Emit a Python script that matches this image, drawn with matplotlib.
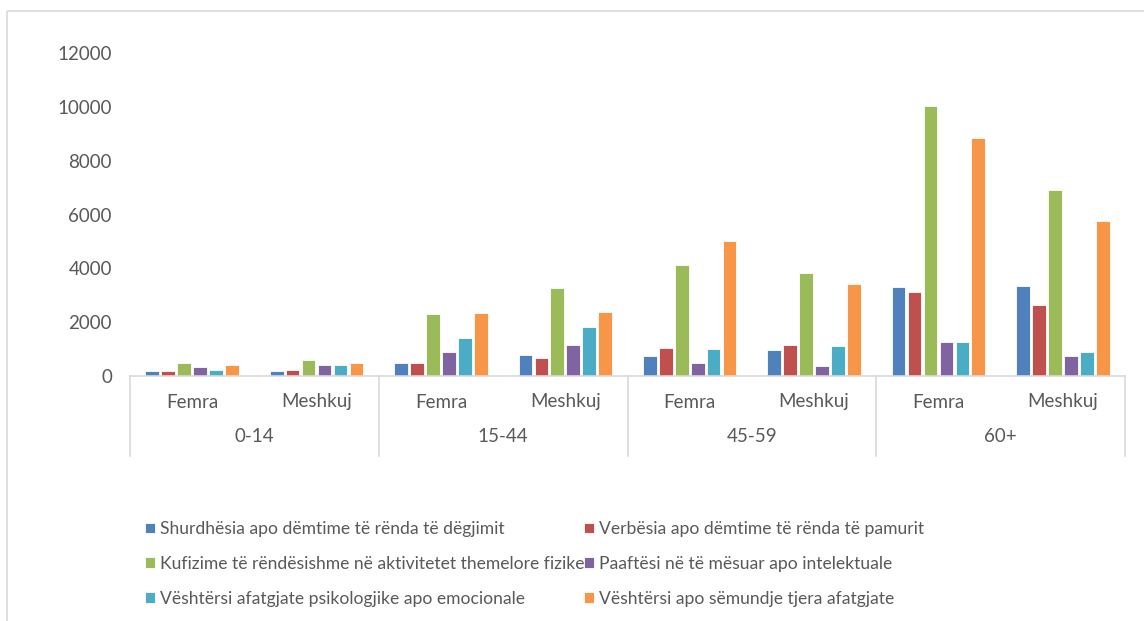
import matplotlib
matplotlib.use("Agg")
import matplotlib.pyplot as plt
import matplotlib.patches as mpatches
import matplotlib.transforms as mtransforms
import numpy as np

plt.rcParams['font.family'] = ['Lato', 'DejaVu Sans']

age_groups = ["0-14", "15-44", "45-59", "60+"]
sexes = ["Femra", "Meshkuj"]
series_names = [
    "Shurdhësia apo dëmtime të rënda të dëgjimit",
    "Verbësia apo dëmtime të rënda të pamurit",
    "Kufizime të rëndësishme në aktivitetet themelore fizike",
    "Paaftësi në të mësuar apo intelektuale",
    "Vështërsi afatgjate psikologjike apo emocionale",
    "Vështërsi apo sëmundje tjera afatgjate",
]
# order: 0-14 F, 0-14 M, 15-44 F, 15-44 M, 45-59 F, 45-59 M, 60+ F, 60+ M
shurdhesia = [190, 190, 495, 790, 745, 955, 3305, 3355]
verbesia = [190, 235, 495, 655, 1050, 1150, 3120, 2640]
kufizime = [490, 595, 2300, 3270, 4135, 3825, 10040, 6910]
paaftesi = [345, 410, 900, 1165, 485, 385, 1250, 745]
psikologjike = [235, 410, 1410, 1830, 1000, 1100, 1250, 890]
semundje = [400, 495, 2340, 2390, 5000, 3420, 8850, 5770]
yticks = [0, 2000, 4000, 6000, 8000, 10000, 12000]

series = [shurdhesia, verbesia, kufizime, paaftesi, psikologjike, semundje]
colors = ["#4F81BD", "#C0504D", "#9BBB59", "#8064A2", "#4BACC6", "#F79646"]

W, H = 1144, 621
fig = plt.figure(figsize=(W / 100, H / 100), dpi=100)
# outer chart border
fig.patches.append(mpatches.Rectangle((7 / W, 1 - 11 / H), 1.2, -1.2,
                                      transform=fig.transFigure, fill=False,
                                      edgecolor="#d9d9d9", linewidth=1.2))

ax = fig.add_axes([130 / W, 1 - 376 / H, (1125 - 130) / W, (376 - 53) / H])
n_cat = 8
x = np.arange(n_cat)
slot = 0.77 / 6
for i, (vals, c) in enumerate(zip(series, colors)):
    ax.bar(x - 0.385 + slot * (i + 0.5), vals, width=slot * 0.86, color=c,
           edgecolor="white", linewidth=0.6, label=series_names[i])

ax.set_xlim(-0.5, n_cat - 0.5)
ax.set_ylim(0, 12000)
ax.set_yticks(yticks)
ax.set_yticklabels([str(t) for t in yticks])
ax.tick_params(axis='y', length=0, pad=13, labelsize=13.5, labelcolor="#595959")
ax.set_xticks([])
for s in ["top", "right", "left"]:
    ax.spines[s].set_visible(False)
ax.spines["bottom"].set_color("#d9d9d9")
ax.spines["bottom"].set_linewidth(1.2)

trans = mtransforms.blended_transform_factory(ax.transData, ax.transAxes)
for b in [-0.5, 1.5, 3.5, 5.5, 7.5]:
    ax.plot([b, b], [0, -80 / 323], transform=trans, color="#d9d9d9",
            linewidth=1.2, clip_on=False)
for k in range(n_cat):
    ax.text(x[k], -26 / 323, sexes[k % 2], transform=trans, ha="center",
            va="center", fontsize=13.5, color="#595959")
for g, name in enumerate(age_groups):
    ax.text(2 * g + 0.5, -61 / 323, name, transform=trans, ha="center",
            va="center", fontsize=13.5, color="#595959")

handles, labels = ax.get_legend_handles_labels()
order = [0, 2, 4, 1, 3, 5]
leg = fig.legend([handles[i] for i in order], [labels[i] for i in order],
                 ncol=2, loc="upper left", bbox_to_anchor=(138 / W, 1 - 514 / H),
                 frameon=False, fontsize=12.6, handlelength=0.55, handleheight=0.55,
                 handletextpad=0.3, columnspacing=0.0, labelspacing=1.08,
                 borderaxespad=0)
for t in leg.get_texts():
    t.set_color("#595959")

fig.savefig("out.png", dpi=100, facecolor="white")
